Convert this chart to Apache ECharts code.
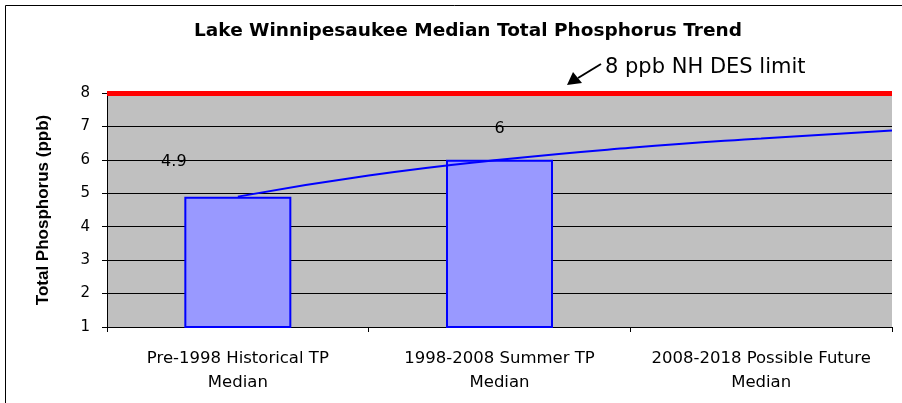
<!DOCTYPE html>
<html>
<head>
<meta charset="utf-8">
<script src="https://cdn.jsdelivr.net/npm/echarts@6/dist/echarts.min.js"></script>
<style>
html, body { margin: 0; padding: 0; background: #fff; }
#chart { width: 902px; height: 403px; }
</style>
</head>
<body>
<div id="chart"></div>
<script>
// categories and medians
var categories = [
  'Pre-1998 Historical TP\nMedian',
  '1998-2008 Summer TP\nMedian',
  '2008-2018 Possible Future\nMedian'
]
var medians = [4.9, 6, null]
var limitValue = 8
// trend curve points (category position, ppb)
var trendX = [1, 1.5, 2, 2.5, 3, 3.5]
var trendY = [4.9, 5.53, 6.0, 6.36, 6.64, 6.88]
var yTicks = [1, 2, 3, 4, 5, 6, 7, 8]

var trendData = trendX.map(function (x, i) { return [x, trendY[i]] })

var chart = echarts.init(document.getElementById('chart'))
var option = {
  animation: false,
  backgroundColor: '#fff',
  title: {
    text: 'Lake Winnipesaukee Median Total Phosphorus Trend',
    left: 463,
    top: 17,
    textAlign: 'center',
    textStyle: { fontFamily: 'DejaVu Sans', fontWeight: 'bold', fontSize: 18.5, color: '#000' }
  },
  grid: { left: 107, right: 10, top: 93, bottom: 76 },
  xAxis: [
    {
      type: 'category',
      data: categories,
      axisLine: { lineStyle: { color: '#000', width: 1 } },
      axisTick: { show: true, interval: 0, length: 5, lineStyle: { color: '#000' } },
      axisLabel: {
        interval: 0,
        hideOverlap: false,
        margin: 20,
        fontFamily: 'DejaVu Sans',
        fontSize: 16.5,
        lineHeight: 24,
        color: '#000'
      }
    },
    {
      type: 'value',
      min: 0.5,
      max: 3.5,
      show: false
    }
  ],
  yAxis: {
    type: 'value',
    min: yTicks[0],
    max: yTicks[yTicks.length - 1],
    interval: 1,
    name: 'Total Phosphorus (ppb)',
    nameLocation: 'middle',
    nameGap: 55,
    nameRotate: 90,
    nameTextStyle: { fontFamily: 'Liberation Sans', fontWeight: 'bold', fontSize: 17, color: '#000' },
    axisLine: { show: true, lineStyle: { color: '#000', width: 1 } },
    axisTick: { show: true, length: 5, lineStyle: { color: '#000' } },
    axisLabel: { fontFamily: 'DejaVu Sans', fontSize: 15, color: '#000', margin: 17 },
    splitLine: { lineStyle: { color: '#000', width: 1 } },
    splitArea: { show: true, areaStyle: { color: ['#c0c0c0', '#c0c0c0'] } }
  },
  series: [
    {
      type: 'bar',
      data: [
        { value: medians[0], label: { offset: [-64, -22] } },
        { value: medians[1], label: { offset: [0, -18] } },
        medians[2]
      ],
      barWidth: 107,
      itemStyle: { color: '#9999ff', borderColor: '#0000ff', borderWidth: 2 },
      label: {
        show: true,
        position: 'top',
        fontFamily: 'DejaVu Sans',
        fontSize: 16,
        color: '#000'
      },
      markLine: {
        silent: true,
        symbol: 'none',
        label: { show: false },
        lineStyle: { color: '#ff0000', width: 5, type: 'solid' },
        data: [{ yAxis: limitValue }]
      },
      z: 3
    },
    {
      type: 'line',
      xAxisIndex: 1,
      data: trendData,
      smooth: true,
      showSymbol: false,
      lineStyle: { color: '#0000ff', width: 2 },
      z: 4
    }
  ],
  graphic: [
    {
      type: 'rect',
      shape: { x: 5.5, y: 5.5, width: 910, height: 410 },
      style: { fill: 'none', stroke: '#000', lineWidth: 1 },
      silent: true
    },
    {
      type: 'line',
      shape: { x1: 601, y1: 64, x2: 578, y2: 78 },
      style: { stroke: '#000', lineWidth: 2 }
    },
    {
      type: 'polygon',
      shape: { points: [[567, 85], [573, 72], [582, 83]] },
      style: { fill: '#000' }
    },
    {
      type: 'text',
      left: 605,
      top: 57,
      style: { text: '8 ppb NH DES limit', font: '21px DejaVu Sans', fill: '#000' }
    }
  ]
}
chart.setOption(option)
</script>
</body>
</html>
